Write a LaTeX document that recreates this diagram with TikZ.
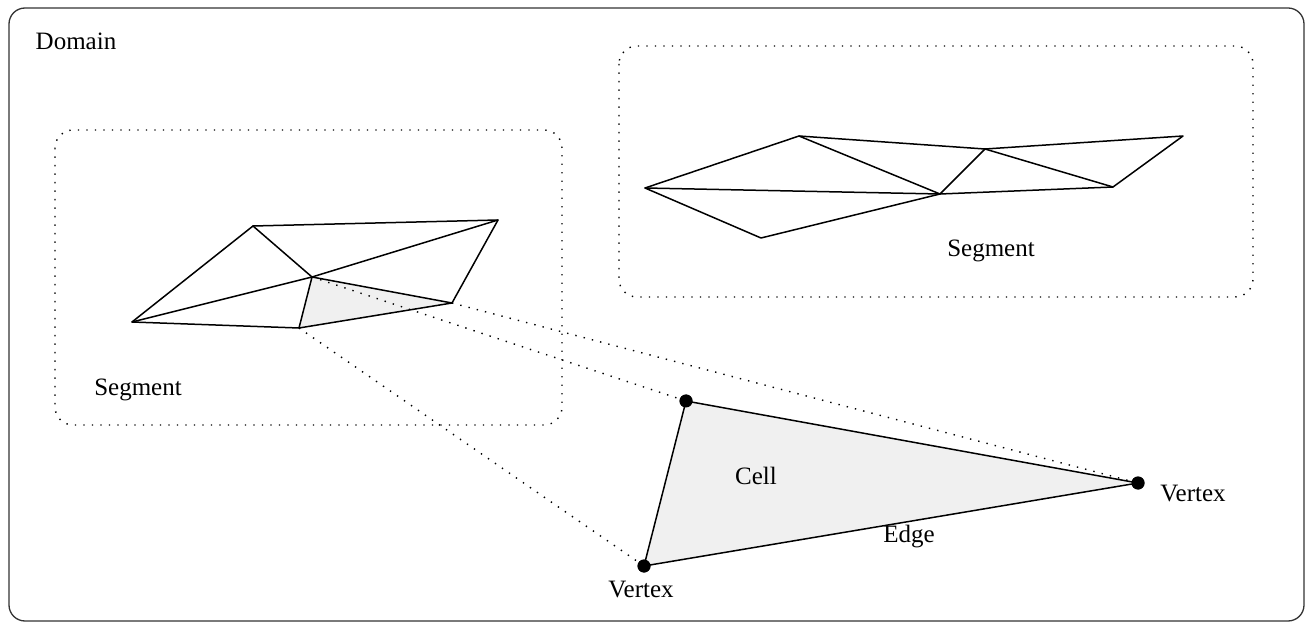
\documentclass[tikz,border=0pt]{standalone}
\usepackage{fontspec}
\setmainfont{Liberation Serif}
\begin{document}
\begin{tikzpicture}[x=1pt,y=-1pt,
  mesh/.style={line width=1.5pt,line join=round,line cap=round},
  dotline/.style={line width=1.4pt,dash pattern=on 1.4pt off 7.1pt,line cap=butt},
  segbox/.style={line width=1.4pt,dash pattern=on 1.4pt off 7.1pt,rounded corners=18pt},
  lbl/.style={font=\fontsize{25}{30}\selectfont,inner sep=0pt},
  vdot/.style={circle,fill=black,minimum size=13pt,inner sep=0pt},
  cellfill/.style={fill=black!6}]
\useasboundingbox (0,0) rectangle (1310,628);
% outer domain
\draw[line width=1.3pt,draw=black!80,rounded corners=16pt] (9,8) rectangle (1304,621);
\node[lbl] (domain) at (76,41) {Domain};
% segment boxes
\draw[segbox] (55,130) rectangle (562,425);
\draw[segbox] (619,46) rectangle (1253,297);
\node[lbl] (segL) at (138,390) {Segment};
\node[lbl] (segR) at (991,251) {Segment};
% left mesh
\coordinate (A) at (253,226);
\coordinate (B) at (498,220);
\coordinate (C) at (312,277);
\coordinate (D) at (132,322);
\coordinate (E) at (299,328);
\coordinate (F) at (452,303);
\fill[cellfill] (C) -- (E) -- (F) -- cycle;
\draw[mesh] (A) -- (B) -- (F) -- (E) -- (D) -- cycle;
\draw[mesh] (A) -- (C) -- (B);
\draw[mesh] (D) -- (C) -- (E);
\draw[mesh] (C) -- (F);
% right mesh
\coordinate (P) at (645,188);
\coordinate (Q) at (799,136);
\coordinate (R) at (985,149);
\coordinate (S) at (1183,136);
\coordinate (T) at (1113,187);
\coordinate (U) at (940,194);
\coordinate (V) at (761,238);
\draw[mesh] (P) -- (Q) -- (R) -- (S) -- (T) -- (U) -- (V) -- cycle;
\draw[mesh] (P) -- (U) -- (Q);
\draw[mesh] (U) -- (R) -- (T);
% cell triangle
\node[vdot] (v1) at (686,401) {};
\node[vdot] (v2) at (644,566) {};
\node[vdot] (v3) at (1138,483) {};
\fill[cellfill] (v1.center) -- (v2.center) -- (v3.center) -- cycle;
\draw[mesh] (v1.center) -- (v2.center) -- (v3.center) -- cycle;
\node[vdot] at (v1) {};
\node[vdot] at (v2) {};
\node[vdot] at (v3) {};
% dotted projections
\draw[dotline] (C) -- (v1.center);
\draw[dotline] (E) -- (v2.center);
\draw[dotline] (F) -- (v3.center);
% labels
\node[lbl] (cell) at (756,476) {Cell};
\node[lbl] (edge) at (909,537) {Edge};
\node[lbl] (vtx2) at (641,590) {Vertex};
\node[lbl] (vtx3) at (1193,494) {Vertex};
\end{tikzpicture}
\end{document}
